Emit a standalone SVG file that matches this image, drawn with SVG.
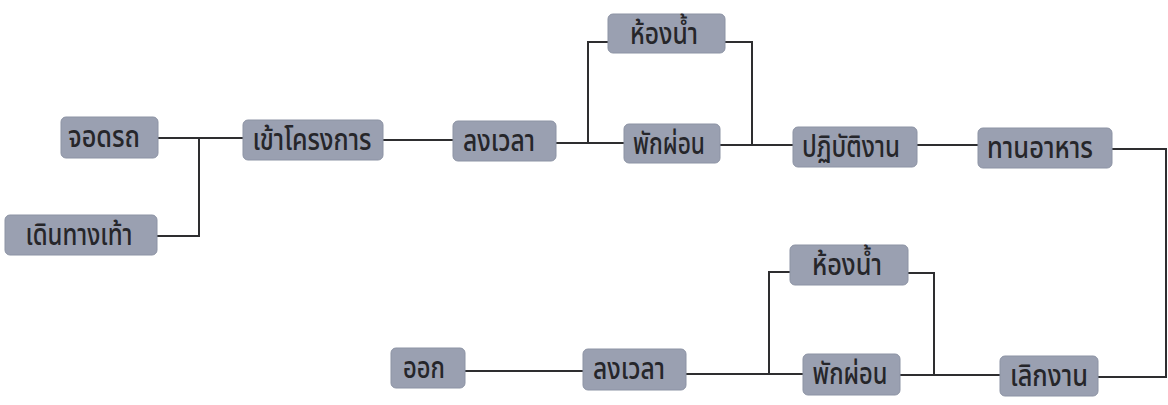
<svg xmlns="http://www.w3.org/2000/svg" width="1168" height="405" viewBox="0 0 1168 405">
<style>
.box{fill:#9aa0b1;stroke:#8c93a4;stroke-width:1}
.lbl{font-family:"Noto Sans Thai","Noto Sans","DejaVu Sans",sans-serif;font-size:30px;font-weight:500;fill:#26262a;text-anchor:middle}
.con{fill:none;stroke:#2e2e30;stroke-width:2}
</style>
<rect width="1168" height="405" fill="#ffffff"/>
<g id="connectors" class="con">
<path d="M158,138 H243"/>
<path d="M157,236 H199 V138"/>
<path d="M383,140 H453"/>
<path d="M556,143 H624"/>
<path d="M588,143 V42 H608"/>
<path d="M725,42 H752 V145"/>
<path d="M720,145 H793"/>
<path d="M917,145 H978"/>
<path d="M1112,149 H1166 V377 H1098"/>
<path d="M1000,375 H900"/>
<path d="M908,273 H934 V375"/>
<path d="M803,374 H686"/>
<path d="M769,373 V272 H790"/>
<path d="M583,371 H465"/>
</g>
<g id="n-jodrot"><rect class="box" x="61" y="117" width="97" height="41" rx="5"/><text class="lbl" x="104" y="147" textLength="72" lengthAdjust="spacingAndGlyphs">จอดรถ</text></g>
<g id="n-doenthang"><rect class="box" x="5" y="215" width="152" height="40" rx="5"/><text class="lbl" x="79" y="245" textLength="107" lengthAdjust="spacingAndGlyphs">เดินทางเท้า</text></g>
<g id="n-khaokrongkan"><rect class="box" x="243" y="120" width="140" height="40" rx="5"/><text class="lbl" x="312" y="150" textLength="119" lengthAdjust="spacingAndGlyphs">เข้าโครงการ</text></g>
<g id="n-longwela1"><rect class="box" x="453" y="121" width="103" height="40" rx="5"/><text class="lbl" x="499" y="151" textLength="72" lengthAdjust="spacingAndGlyphs">ลงเวลา</text></g>
<g id="n-hongnam1"><rect class="box" x="608" y="14" width="117" height="39" rx="5"/><text class="lbl" x="664" y="44" textLength="68" lengthAdjust="spacingAndGlyphs">ห้องน้ำ</text></g>
<g id="n-phakphon1"><rect class="box" x="624" y="124" width="96" height="39" rx="5"/><text class="lbl" x="669" y="154" textLength="72" lengthAdjust="spacingAndGlyphs">พักผ่อน</text></g>
<g id="n-patibat"><rect class="box" x="793" y="127" width="124" height="40" rx="5"/><text class="lbl" x="851" y="157" textLength="98" lengthAdjust="spacingAndGlyphs">ปฏิบัติงาน</text></g>
<g id="n-thanahan"><rect class="box" x="978" y="128" width="134" height="40" rx="5"/><text class="lbl" x="1040" y="158" textLength="106" lengthAdjust="spacingAndGlyphs">ทานอาหาร</text></g>
<g id="n-ok"><rect class="box" x="391" y="348" width="74" height="40" rx="5"/><text class="lbl" x="424" y="378" textLength="42" lengthAdjust="spacingAndGlyphs">ออก</text></g>
<g id="n-longwela2"><rect class="box" x="583" y="349" width="103" height="41" rx="5"/><text class="lbl" x="629" y="379" textLength="72" lengthAdjust="spacingAndGlyphs">ลงเวลา</text></g>
<g id="n-hongnam2"><rect class="box" x="790" y="245" width="118" height="40" rx="5"/><text class="lbl" x="847" y="275" textLength="70" lengthAdjust="spacingAndGlyphs">ห้องน้ำ</text></g>
<g id="n-phakphon2"><rect class="box" x="803" y="354" width="97" height="41" rx="5"/><text class="lbl" x="850" y="384" textLength="75" lengthAdjust="spacingAndGlyphs">พักผ่อน</text></g>
<g id="n-loekngan"><rect class="box" x="1000" y="356" width="98" height="40" rx="5"/><text class="lbl" x="1049" y="386" textLength="78" lengthAdjust="spacingAndGlyphs">เลิกงาน</text></g>
</svg>
